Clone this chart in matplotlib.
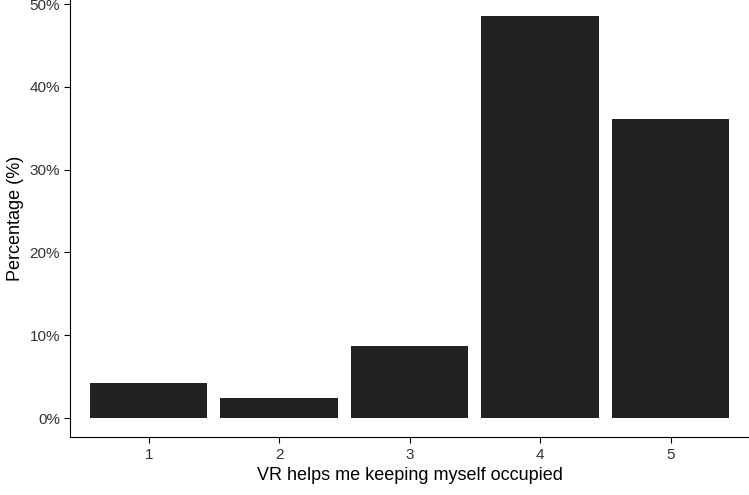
import matplotlib
matplotlib.use("Agg")
import matplotlib.pyplot as plt
from matplotlib.ticker import FuncFormatter

categories = ["1", "2", "3", "4", "5"]
percent = [4.2, 2.4, 8.7, 48.6, 36.1]

plt.rcParams['font.family'] = ['Liberation Sans', 'DejaVu Sans']
fig = plt.figure(figsize=(7.49, 4.95), dpi=100)
ax = fig.add_axes([0.094, 0.117, 0.906, 0.883])
x = list(range(1, len(categories) + 1))
ax.bar(x, percent, width=0.9, color="#222222")
ax.set_xlim(0.4, 5.6)
ax.set_ylim(-2.3, 50.5)
ax.set_xticks(x)
ax.set_xticklabels(categories)
ax.set_yticks([0, 10, 20, 30, 40, 50])
ax.yaxis.set_major_formatter(FuncFormatter(lambda v, p: f"{int(v)}%"))
for s in ["top", "right"]:
    ax.spines[s].set_visible(False)
ax.tick_params(labelsize=11, colors="black", length=4)
ax.tick_params(axis="both", labelcolor="#333333")
ax.set_xlabel("VR helps me keeping myself occupied", fontsize=13)
ax.set_ylabel("Percentage (%)", fontsize=13)
fig.savefig("out.png", dpi=100)
